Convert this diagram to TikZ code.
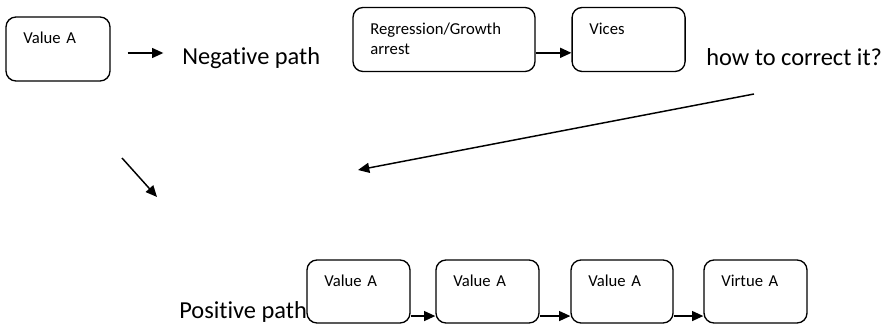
\documentclass[tikz,border=0pt]{standalone}
\usepackage{fontspec}
\setmainfont{Carlito}[Ligatures=NoCommon]
\usetikzlibrary{arrows.meta,positioning}

\begin{document}
\begin{tikzpicture}[x=0.75pt, y=-0.75pt, node distance=1cm]
    \tikzstyle{module}=[draw, line width=1pt, rounded corners=7.5pt, align=left, inner xsep=13pt, inner ysep=0pt, text height=20pt, text depth=28pt, font=\fontsize{12.5}{15.5}\selectfont];
    \tikzstyle{pathlabel}=[anchor=base west, inner sep=0pt, font=\fontsize{18.3}{22}\selectfont];
    \tikzstyle{link}=[-{Triangle[length=8.5pt, width=7.5pt]}, line width=1.1pt];

    \useasboundingbox (0,0) rectangle (888,324);

    % negative path
    \node[module, text width=52pt] (valA) at (58,49) {Value A};
    \node[pathlabel] (neg) at (182,65) {Negative path};
    \node[module, text width=110.5pt] (regr) at (444,39.5) {Regression/Growth\\arrest};
    \node[module, text width=58.75pt, right of=regr, xshift=110pt] (vices) {Vices};
    \node[pathlabel] (howto) at (706,66) {how to correct it?};

    % positive path
    \node[pathlabel] (pos) at (179,318) {Positive path};
    \node[module, text width=51.25pt, text depth=27.25pt] (posA) at (358.5,291.5) {Value A};
    \node[module, text width=51.25pt, text depth=27.25pt, right of=posA, xshift=68.3pt] (posB) {Value A};
    \node[module, text width=50.5pt, text depth=27.25pt, right of=posB, xshift=72.45pt] (posC) {Value A};
    \node[module, text width=51.25pt, text depth=27.25pt, right of=posC, xshift=71.65pt] (virt) {Virtue A};

    \coordinate (backA) at (754,94);
    \coordinate (backB) at (358,170);
    \coordinate (downA) at (122,158);
    \coordinate (downB) at (157,197);

    \draw[link, shorten <=12.75pt, shorten >=14pt] ([yshift=-3pt]valA.east) -- ([yshift=-3pt]valA.east -| neg.west);
    \draw[link] ([yshift=-10pt]regr.east) -- ([yshift=-10pt]regr.east -| vices.west);
    \draw[link] (backA) -- (backB);
    \draw[link] (downA) -- (downB);
    \draw[link] ([yshift=-18.4pt]posA.east) -- ([yshift=-18.4pt]posA.east -| posB.west);
    \draw[link] ([yshift=-18.4pt]posB.east) -- ([yshift=-18.4pt]posB.east -| posC.west);
    \draw[link] ([yshift=-18.4pt]posC.east) -- ([yshift=-18.4pt]posC.east -| virt.west);
\end{tikzpicture}
\end{document}
